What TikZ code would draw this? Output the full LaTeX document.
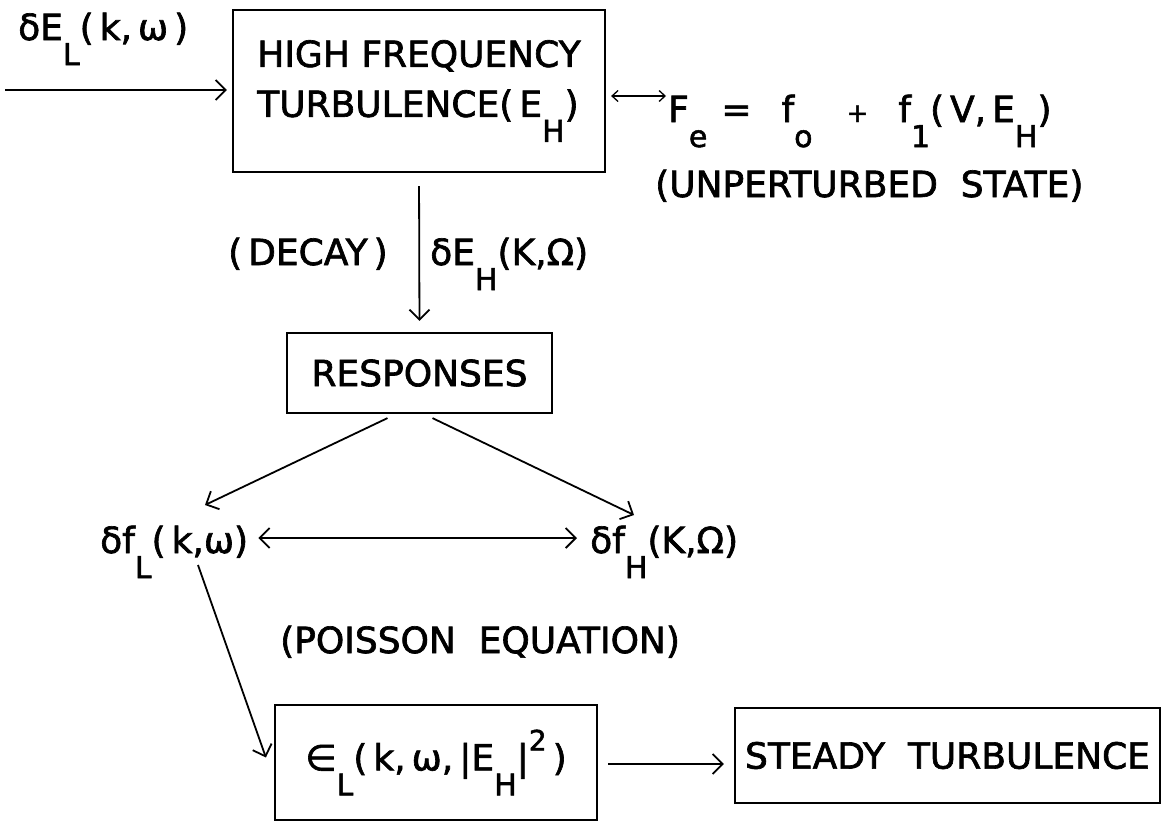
\documentclass[tikz,border=0pt]{standalone}
\usepackage{fontspec}
\setmainfont{DejaVu Sans}[FakeBold=1.8]
\usetikzlibrary{arrows.meta,calc}
\newcommand\lo[1]{\raisebox{-25pt}{\fontsize{30}{30}\selectfont #1}}
\newcommand\hi[1]{\raisebox{20pt}{\fontsize{28}{28}\selectfont #1}}
\begin{document}
\begin{tikzpicture}[x=1pt,y=-1pt,
  box/.style={draw,line width=2.2pt,inner sep=0pt,font=\fontsize{36}{50}\selectfont},
  txt/.style={inner sep=0pt,anchor=base west,font=\fontsize{36}{50}\selectfont},
  arr/.style={line width=1.8pt,-{Straight Barb[length=10pt,width=20pt,line width=1.8pt]}},
  dbl/.style={line width=1.8pt,{Straight Barb[length=10pt,width=20pt,line width=1.8pt]}-{Straight Barb[length=10pt,width=20pt,line width=1.8pt]}},
  dbls/.style={line width=1.3pt,{Straight Barb[length=6pt,width=11pt,line width=1.3pt]}-{Straight Barb[length=6pt,width=11pt,line width=1.3pt]}}]
\path[use as bounding box,fill=white] (0,0) rectangle (1164,823);

% boxes
\node[box,minimum width=372pt,minimum height=162pt,align=left] (hf) at (419,91)
  {HIGH FREQUENCY\\TURBULENCE(\,E\lo{H})};
\node[box,minimum width=265pt,minimum height=80pt] (resp) at (419.5,373) {RESPONSES};
\node[box,minimum width=322pt,minimum height=115pt] (eps) at (436,762.5)
  {∈\lo{L}(\,k,\,ω,\,|E\lo{H}|\hi{2}\,)};
\node[box,minimum width=425pt,minimum height=95pt] (steady) at (947.5,755.5)
  {STEADY\ \ TURBULENCE};

% texts
\node[txt] (inlab) at (18,40) {δE\lo{L}(\,k,\,ω\,)};
\node[txt] (fe) at (668,122)
  {F\lo{e}\hspace{14pt}=\hspace{30pt}f\lo{o}\hspace{34pt}{\fontsize{26}{26}\selectfont +}\hspace{30pt}f\lo{1}(\,V,\,E\lo{H})};
\node[txt] (unp) at (655,197) {(UNPERTURBED\ \ STATE)};
\node[txt] (decay) at (228,265) {(\,DECAY\,)};
\node[txt] (dEH) at (430,265) {δE\lo{H}(K,Ω)};
\node[txt] (dfL) at (100,553) {δf\lo{L}(\,k,ω)};
\node[txt] (dfH) at (590,553) {δf\lo{H}(K,Ω)};
\node[txt] (poi) at (280,653) {(POISSON\ \ EQUATION)};

% connectors
\coordinate (inS) at (5,90);
\draw[arr] (inS) -- (inS -| hf.west) [shorten >=5pt];
\coordinate (fa) at (0,96);
\draw[dbls,shorten <=5pt,shorten >=2pt] (hf.east |- fa) -- (fe.west |- fa);
\draw[arr,shorten <=13pt,shorten >=11pt] (hf.south) -- (resp.north);
\draw[arr] ($(resp.south)+(-32,4)$) -- ($(dfL.base west)+(105,-48)$);
\draw[arr] ($(resp.south)+(13,4)$) -- ($(dfH.base west)+(44,-38)$);
\coordinate (da) at (0,538);
\draw[dbl,shorten <=10pt,shorten >=13pt] (dfL.east |- da) -- (dfH.west |- da);
\draw[arr] ($(dfL.base west)+(98,12)$) -- ($(eps.west)+(-8,-5)$);
\coordinate (ea) at (0,764);
\draw[arr,shorten <=10pt,shorten >=10pt] (eps.east |- ea) -- (steady.west |- ea);
\end{tikzpicture}
\end{document}
